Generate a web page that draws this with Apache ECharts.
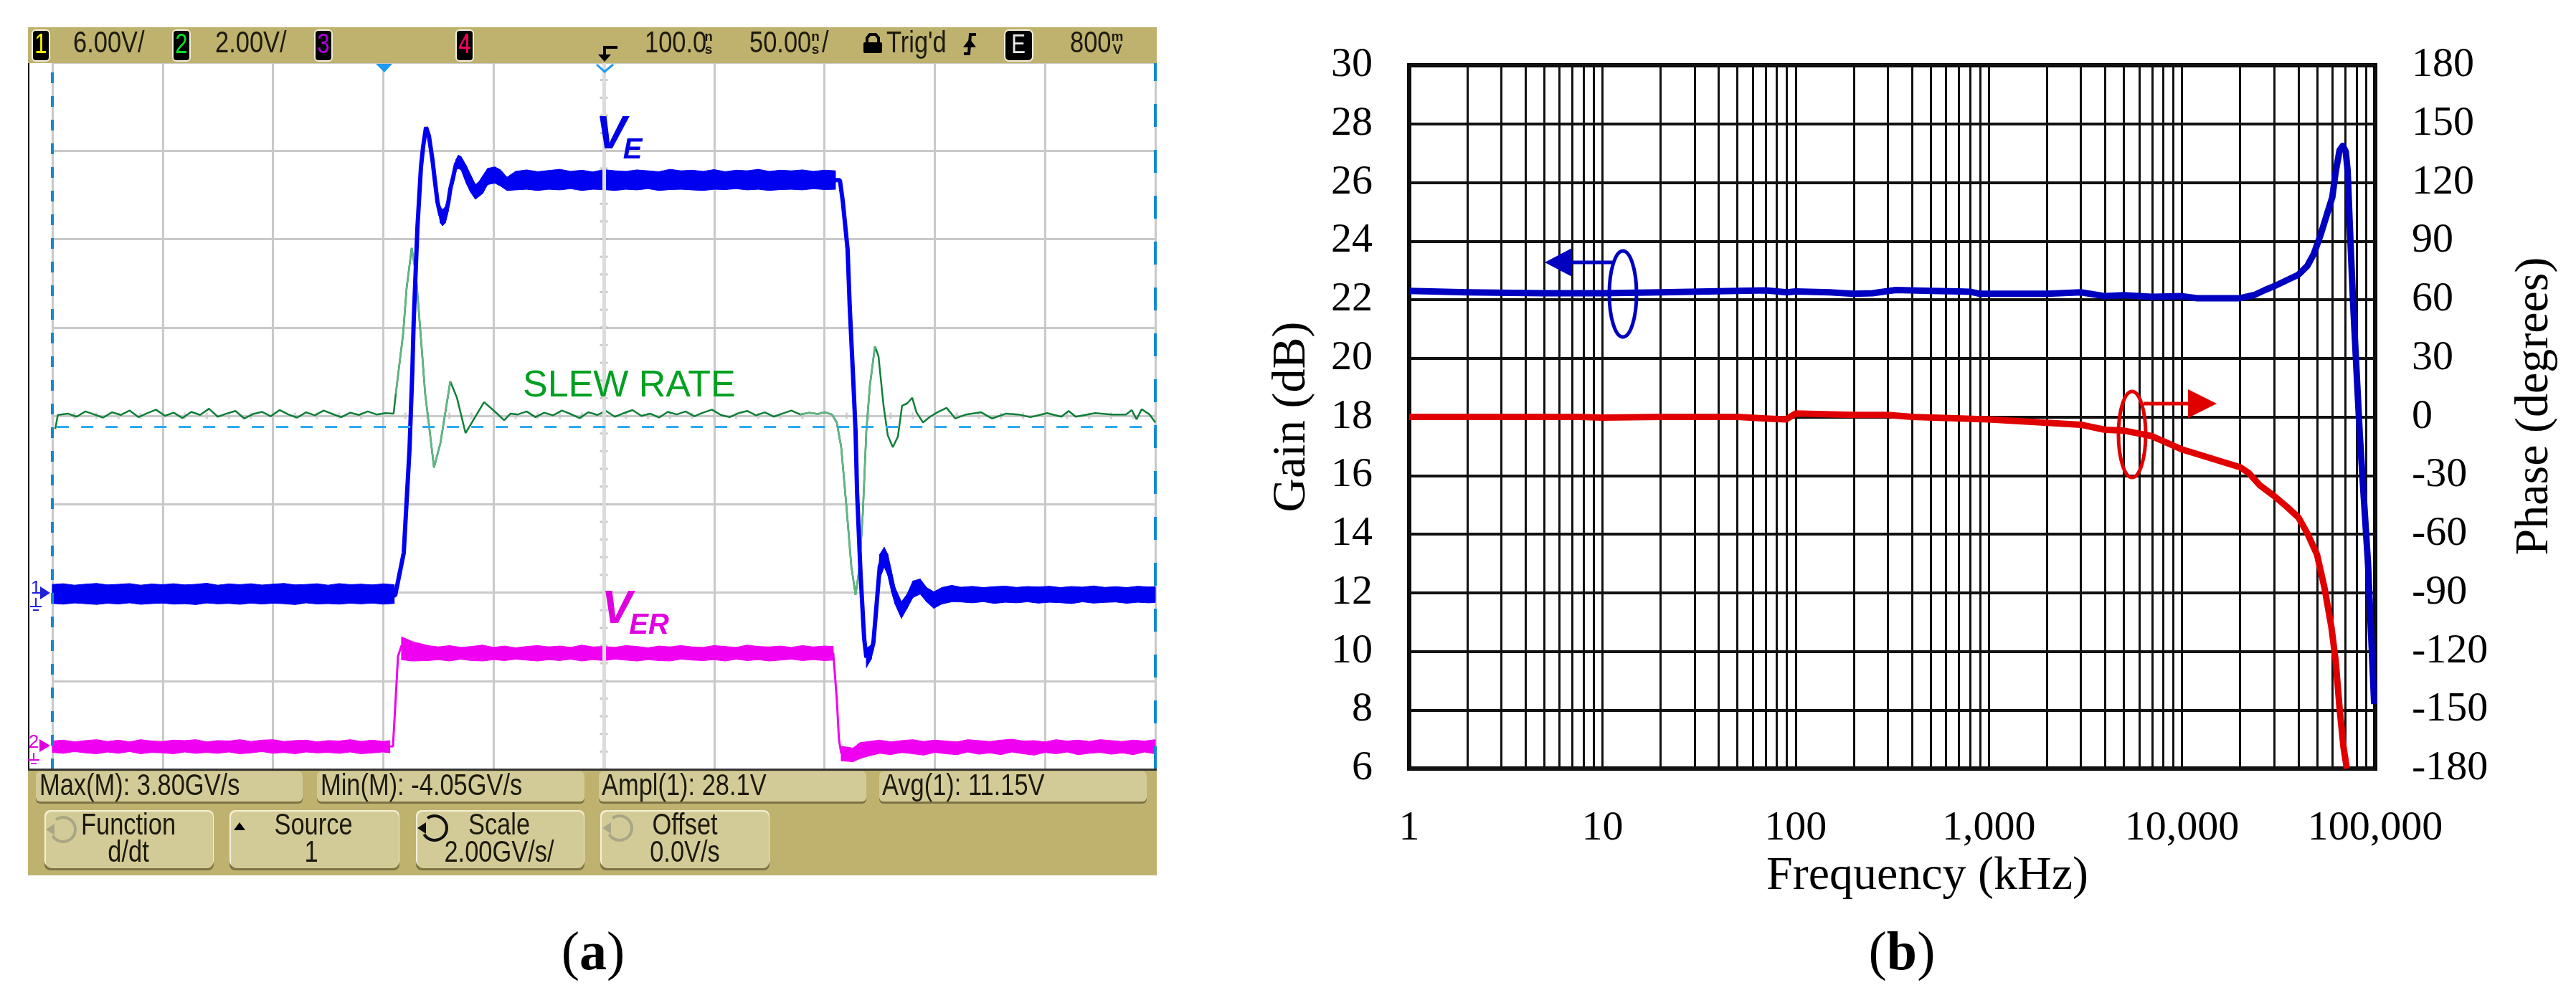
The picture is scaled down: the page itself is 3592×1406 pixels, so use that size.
<!DOCTYPE html>
<html>
<head>
<meta charset="utf-8">
<title>Slew rate and frequency response</title>
<script src="https://cdn.jsdelivr.net/npm/echarts@6/dist/echarts.min.js"></script>
<style>
html, body { margin: 0; padding: 0; background: #fff; }
#main { width: 3592px; height: 1406px; }
</style>
</head>
<body>
<div id="main"></div>
<script>
// panel (a): scope traces, time in ns
var veTimes = [-150, 5.4, 9.3, 11.9, 13.2, 13.8, 15.5, 17.1, 18.1, 19.4, 20.7, 22.3, 23.3, 24.6, 25.9, 26.9, 28.2, 29.5, 30.4, 31.7, 33, 34, 35.3, 37.6, 39.5, 41.8, 43.4, 45.1, 47.3, 50.6, 53.2, 56.1, 60, 207,
    208.3, 210.5, 211.5, 213.1, 214.1, 214.8, 216.4, 218, 219, 221.2, 222.2, 223.6, 225.1, 227.1, 228.7, 230.4, 232, 234.9, 237.5, 240.1, 243.4, 246.3, 249.6, 253.2, 257.7, 350];
var veValues = [-0.1, -0.2, 2.7, 9.7, 15.1, 18.4, 24.8, 28.9, 30.3, 31.6, 31, 29.4, 28.1, 26.5, 25.65, 25.5, 25.65, 26.5, 27.4, 28.2, 29.1, 29.3, 29.2, 28.4, 27.8, 27.3, 27.4, 27.7, 28.3, 28.4, 28.2, 27.7, 28, 28,
    26.6, 23.3, 19.3, 14.3, 11, 6.8, 1.2, -3.1, -4.4, -4, -3.4, -0.9, 1.8, 2.4, 1.9, 0.75, -0.2, -1.2, -0.6, 0.2, 0.4, -0.15, -0.5, -0.2, -0.07, -0.2];

// noise envelope of VE, null splits it where the edge is clean
var veBandTimes = [-150, -145, -140, -135, -130, -125, -120, -115, -110, -105, -100, -95, -90, -85, -80, -75, -70, -65, -60, -55, -50, -45, -40, -35, -30, -25, -20, -15, -10, -5, 0, 5, null,
    24.6, 25.9, 26.9, 28.2, 29.5, 30.4, 31.7, 33, 34, 35.3, 37.6, 39.5, 41.8, 43.4, 45.1, 47.3, 50.6, 53.2, 56.1,
    60, 65, 70, 75, 80, 85, 90, 95, 100, 105, 110, 115, 120, 125, 130, 135, 140, 145, 150, 155, 160, 165, 170, 175, 180, 185, 190, 195, 200, 205, null,
    219, 221.2, 222.2, 223.6, 225.1, 227.1, 228.7, 230.4, 232, 234.9, 237.5, 240.1, 243.4, 246.3, 249.6, 253.2, 257.7,
    262, 267, 272, 277, 282, 287, 292, 297, 302, 307, 312, 317, 322, 327, 332, 337, 342, 347, 350];
var veBandHigh = [0.55, 0.6, 0.5, 0.57, 0.62, 0.52, 0.56, 0.61, 0.5, 0.58, 0.54, 0.6, 0.52, 0.56, 0.63, 0.5, 0.59, 0.54, 0.6, 0.51, 0.57, 0.62, 0.52, 0.55, 0.6, 0.5, 0.61, 0.54, 0.57, 0.52, 0.59, 0.54, null,
    26.8, 26.2, 26, 26.2, 26.9, 27.8, 28.5, 29.4, 29.7, 29.6, 29, 28.4, 27.7, 27.9, 28.3, 28.8, 28.9, 28.7, 28.2,
    28.6, 28.7, 28.58, 28.66, 28.74, 28.6, 28.68, 28.56, 28.72, 28.64, 28.6, 28.7, 28.64, 28.58, 28.74, 28.64, 28.68, 28.6, 28.72, 28.58, 28.68, 28.64, 28.74, 28.6, 28.68, 28.64, 28.7, 28.6, 28.68, 28.64, null,
    -3.8, -3.55, -3, -0.2, 2.6, 3.07, 2.6, 1.46, 0.34, -0.63, -0.1, 0.78, 0.92, 0.34, 0.05, 0.34, 0.49,
    0.36, 0.42, 0.34, 0.4, 0.44, 0.35, 0.41, 0.38, 0.43, 0.34, 0.41, 0.37, 0.45, 0.35, 0.4, 0.34, 0.43, 0.38, 0.4];
var veBandLow = [-0.74, -0.79, -0.71, -0.76, -0.81, -0.73, -0.78, -0.7, -0.8, -0.75, -0.72, -0.79, -0.76, -0.82, -0.71, -0.77, -0.74, -0.8, -0.72, -0.78, -0.73, -0.76, -0.82, -0.7, -0.78, -0.75, -0.79, -0.73, -0.77, -0.72, -0.79, -0.74, null,
    26.2, 25.1, 24.9, 25.1, 25.9, 27, 27.8, 28.7, 28.8, 28.7, 27.8, 27.2, 26.7, 26.9, 27.1, 27.7, 27.8, 27.6, 27.3,
    27.34, 27.38, 27.3, 27.38, 27.34, 27.42, 27.3, 27.38, 27.36, 27.3, 27.38, 27.34, 27.42, 27.3, 27.36, 27.38, 27.34, 27.3, 27.38, 27.36, 27.42, 27.34, 27.38, 27.3, 27.36, 27.38, 27.34, 27.42, 27.36, 27.38, null,
    -5.1, -4.53, -3.85, -1.6, 0.95, 1.75, 1.17, 0.05, -0.78, -1.75, -1.07, -0.34, -0.1, -0.63, -1.07, -0.78, -0.63,
    -0.64, -0.7, -0.62, -0.74, -0.66, -0.7, -0.63, -0.72, -0.66, -0.69, -0.75, -0.63, -0.72, -0.67, -0.64, -0.73, -0.66, -0.7, -0.68];

var verTimes = [-150, 4.4, 5.4, 6.7, 8.3, 12, 204, 204.3, 205.6, 206.6, 207.6, 350];
var verValues = [0, 0.02, 0.89, 2.06, 2.3, 2.13, 2.13, 1.93, 1.09, 0.16, -0.13, 0];
var verBandTimes = [-150, -145, -140, -135, -130, -125, -120, -115, -110, -105, -100, -95, -90, -85, -80, -75, -70, -65, -60, -55, -50, -45, -40, -35, -30, -25, -20, -15, -10, -5, 0, 3, null,
    8.3, 13.2, 20.3, 25, 30, 35, 40, 45, 50, 55, 60, 65, 70, 75, 80, 85, 90, 95, 100, 105, 110, 115, 120, 125, 130, 135, 140, 145, 150, 155, 160, 165, 170, 175, 180, 185, 190, 195, 200, 204, null,
    207.6, 213, 216, 220, 225, 230, 235, 240, 245, 250, 255, 260, 265, 270, 275, 280, 285, 290, 295, 300, 305, 310, 315, 320, 325, 330, 335, 340, 345, 350];
var verBandHigh = [0.14, 0.16, 0.12, 0.15, 0.17, 0.13, 0.16, 0.12, 0.17, 0.14, 0.13, 0.16, 0.15, 0.17, 0.12, 0.15, 0.14, 0.17, 0.13, 0.16, 0.17, 0.13, 0.15, 0.16, 0.12, 0.15, 0.14, 0.17, 0.13, 0.16, 0.13, 0.15, null,
    2.5, 2.39, 2.3, 2.27, 2.3, 2.26, 2.28, 2.31, 2.26, 2.29, 2.25, 2.28, 2.3, 2.27, 2.29, 2.26, 2.31, 2.27, 2.28, 2.26, 2.3, 2.28, 2.25, 2.29, 2.27, 2.3, 2.27, 2.26, 2.3, 2.28, 2.26, 2.31, 2.28, 2.27, 2.29, 2.26, 2.3, 2.27, 2.29, 2.28, null,
    0.02, -0.02, 0.1, 0.13, 0.16, 0.12, 0.15, 0.17, 0.13, 0.16, 0.14, 0.12, 0.17, 0.15, 0.13, 0.16, 0.18, 0.14, 0.15, 0.12, 0.17, 0.14, 0.16, 0.13, 0.17, 0.15, 0.13, 0.16, 0.14, 0.17];
var verBandLow = [-0.12, -0.14, -0.1, -0.13, -0.15, -0.11, -0.14, -0.1, -0.15, -0.12, -0.13, -0.15, -0.11, -0.14, -0.12, -0.14, -0.11, -0.15, -0.13, -0.1, -0.14, -0.12, -0.15, -0.11, -0.13, -0.12, -0.14, -0.11, -0.15, -0.13, -0.11, -0.13, null,
    1.98, 1.95, 1.96, 1.98, 1.95, 1.99, 1.96, 1.95, 1.98, 1.96, 1.99, 1.97, 1.95, 1.98, 1.96, 1.99, 1.95, 1.98, 1.96, 1.99, 1.97, 1.95, 1.98, 1.96, 1.95, 1.99, 1.97, 1.96, 1.98, 1.95, 1.99, 1.96, 1.98, 1.95, 1.97, 1.99, 1.96, 1.98, 1.96, 1.97, null,
    -0.31, -0.33, -0.26, -0.2, -0.14, -0.17, -0.12, -0.15, -0.18, -0.12, -0.15, -0.17, -0.11, -0.16, -0.13, -0.17, -0.11, -0.15, -0.18, -0.12, -0.15, -0.11, -0.17, -0.14, -0.12, -0.16, -0.13, -0.17, -0.11, -0.15];

var slewTimes = [-148.7, -147.5, -143, -139, -135, -131, -127, -123, -119, -115, -111, -107, -103, -99, -95, -91, -87, -83, -79, -75, -71, -67, -63, -59, -55, -51, -47, -43, -39, -35, -31, -27, -23, -19, -15, -11, -7, -3, 1,
    4.7, 5.7, 9, 10.6, 12.9, 14.8, 17.1, 19, 20.6, 23, 25.9, 30.4, 33.4, 37.3, 40.8, 45.7, 50.3, 54.8, 57.7,
    61, 65, 69, 73, 77, 81, 85, 89, 93, 97, 101, 105, 109, 113, 117, 121, 125, 129, 133, 137, 141, 145, 149, 153, 157, 161, 165, 169, 173, 177, 181, 185, 189, 193, 197,
    200.1, 203.4, 205.6, 207.6, 209.9, 212.2, 214.1, 215.7, 217.4, 219, 220.6, 222.9, 224.5, 226.8, 228.7, 231, 233.3, 235.2, 237.5, 239.8, 241.7, 244.7, 247.9, 251.2, 255.4, 259.3, 264.2, 271, 275.9, 282.4, 287.9, 293.4, 300.9, 307.4, 310.7, 313.9, 322.7, 330.2, 336.7, 339.3, 341.5, 343.8, 347.4, 350];
var slewValues = [-0.3, 0.02, 0.05, -0.02, 0.1, 0.03, -0.04, 0.08, 0.02, 0.12, -0.03, 0.06, 0.14, 0, 0.07, -0.05, 0.09, 0.02, 0.16, -0.02, 0.05, 0.11, -0.06, 0.04, 0.09, -0.01, 0.13, 0.03, -0.04, 0.08, 0.01, 0.12, 0.04, -0.03, 0.07, 0.02, 0.1, 0.03, 0.06,
    0.05, 0.5, 1.85, 2.89, 3.8, 3.21, 1.75, 0.5, -0.15, -1.17, -0.62, 0.78, 0.41, -0.39, -0.1, 0.31, 0.11, -0.1, 0.05,
    0.03, 0.1, -0.03, 0.07, 0.01, 0.12, 0.04, -0.05, 0.08, 0.02, 0.11, -0.02, 0.06, 0.13, 0, 0.05, -0.04, 0.09, 0.03, 0.1, -0.01, 0.07, 0.14, 0.02, -0.03, 0.06, 0.11, 0.01, 0.08, -0.02, 0.05, 0.12, 0.03, 0.07, 0.04,
    0.08, 0.03, -0.15, -0.71, -2.01, -3.41, -4.05, -3.51, -2.21, -0.34, 0.68, 1.57, 1.35, 0.23, -0.44, -0.71, -0.47, 0.23, 0.28, 0.41, 0.08, -0.15, -0.02, 0.08, 0.18, -0.06, 0.03, 0.08, -0.06, 0.05, 0.03, -0.03, 0.06, -0.02, 0.11, -0.02, 0.06, 0.03, 0.03, 0.13, -0.08, 0.15, 0.03, -0.15];

// panel (b): frequency response
var tickFreqs = [2, 3, 4, 5, 6, 7, 8, 9, 20, 30, 40, 50, 60, 70, 80, 90, 200, 300, 400, 500, 600, 700, 800, 900,
    2000, 3000, 4000, 5000, 6000, 7000, 8000, 9000, 20000, 30000, 40000, 50000, 60000, 70000, 80000, 90000];
var gainFreqs = [1, 2, 5, 10, 20, 50, 70, 90, 100, 150, 200, 250, 330, 500, 700, 800, 900, 1000, 2000, 3000, 4000, 5000, 7000, 10000, 12000, 20000, 23660, 26900,
    30000, 34800, 40000, 44500, 48100, 52100, 56500, 60000, 62400, 65400, 67950, 70400, 72000, 73800, 76700, 83200, 91800, 98800];
var gainValues = [22.3, 22.25, 22.22, 22.22, 22.25, 22.3, 22.32, 22.25, 22.28, 22.25, 22.2, 22.22, 22.33, 22.3, 22.28, 22.27, 22.2, 22.2, 22.2, 22.25, 22.12, 22.15, 22.1, 22.12, 22.05, 22.05, 22.16, 22.33,
    22.46, 22.66, 22.85, 23.15, 23.56, 24.2, 24.95, 25.5, 26.35, 27.1, 27.25, 27.05, 26.4, 24.6, 22, 17.4, 13, 8.2];
var phaseFreqs = [1, 7.5, 10, 20, 50, 70, 89, 100, 200, 300, 400, 1000, 3000, 4000, 5000, 6950, 9900, 20000, 22150, 25200, 30000, 34800, 40000, 44500, 50000, 54700, 59300, 62400, 65400, 68500, 71300];
var phaseValues = [0, 0, -0.4, 0, 0, -0.8, -1.3, 1.7, 1, 1, 0, -1.3, -4, -6.6, -7, -9.8, -16.5, -25.8, -28.7, -34.9, -40.5, -45.9, -51.4, -59.5, -70.5, -87.7, -107.4, -124.6, -149, -168.8, -180];

var SANS = '"Liberation Sans", sans-serif';
var SERIF = '"Liberation Serif", serif';
var INK = '#1c1a0e', PANEL = '#bfb26e', BTN = '#d3cb97';

function rect(x, y, w, h, fill, r, stroke, lw) {
    return { type: 'rect', z: 20, shape: { x: x, y: y, width: w, height: h, r: r || 0 },
        style: { fill: fill, stroke: stroke || null, lineWidth: lw || 0 } };
}
// scope lettering is condensed, so squeeze the sans face
function txt(s, x, y, size, fill, align, squeeze, weight, style) {
    return { type: 'text', z: 30, x: x, y: y, scaleX: squeeze || 0.82, style: { text: s, x: 0, y: 0, fill: fill || INK, fontSize: size,
        fontFamily: SANS, fontWeight: weight || 'normal', fontStyle: style || 'normal',
        align: align || 'left', verticalAlign: 'middle' } };
}
function poly(points, fill) {
    return { type: 'polygon', z: 30, shape: { points: points }, style: { fill: fill } };
}
function path(points, stroke, lw) {
    return { type: 'polyline', z: 30, shape: { points: points }, style: { stroke: stroke, lineWidth: lw, fill: null } };
}
function ellipse(cx, cy, rx, ry, stroke) {
    return { type: 'ellipse', z: 30, shape: { cx: cx, cy: cy, rx: rx, ry: ry }, style: { fill: null, stroke: stroke, lineWidth: 5 } };
}
function button(x, y, w, h) {
    return [rect(x, y + 3, w, h, '#7d7344', 8), rect(x, y - 2, w, h, '#f4f0d8', 8), rect(x + 2, y, w - 3, h, BTN, 8)];
}
function knob(cx, cy, color) {
    return [{ type: 'arc', z: 30, shape: { cx: cx, cy: cy, r: 17, startAngle: -2.2, endAngle: 2.6, clockwise: true },
        style: { stroke: color, lineWidth: 4, fill: null } },
        poly([[cx - 24, cy], [cx - 12, cy - 8], [cx - 12, cy + 8]], color)];
}
function chanBox(x, label, color) {
    return [rect(x, 42, 24, 43, '#000', 5, '#f4f0d8', 2), txt(label, x + 12, 64, 38, color, 'center')];
}
function caption(letter, x) {
    return { type: 'text', z: 30, style: { text: '{r|(}{b|' + letter + '}{r|)}', x: x, y: 1332, align: 'center', verticalAlign: 'middle',
        rich: { r: { fontSize: 76, fontFamily: SERIF, fill: '#000' }, b: { fontSize: 76, fontFamily: SERIF, fontWeight: 'bold', fill: '#000' } } } };
}

var graphics = [].concat(
    [rect(39, 38, 1574, 50, PANEL), rect(39, 1073, 1574, 148, PANEL)],
    chanBox(45, '1', '#f5f000'), chanBox(241, '2', '#00e030'), chanBox(439, '3', '#b000e0'), chanBox(636, '4', '#ff0066'),
    [rect(1401, 42, 39, 43, '#000', 6, '#f4f0d8', 2), txt('E', 1420, 64, 36, '#e8e8e8', 'center'),
     txt('6.00V/', 102, 61, 42), txt('2.00V/', 300, 61, 42), txt('100.0', 899, 61, 42),
     txt('n', 988, 52, 19, INK, 'center', 1, 'bold'), txt('s', 988, 70, 19, INK, 'center', 1, 'bold'),
     txt('50.00', 1045, 61, 42), txt('n', 1137, 52, 19, INK, 'center', 1, 'bold'), txt('s', 1137, 70, 19, INK, 'center', 1, 'bold'),
     txt('/', 1146, 61, 42), txt("Trig'd", 1236, 61, 42), txt('800', 1492, 61, 42),
     txt('m', 1558, 52, 19, INK, 'center', 1, 'bold'), txt('V', 1558, 70, 19, INK, 'center', 1, 'bold'),
     rect(1204, 59, 26, 15, '#000', 2), path([[1209, 60], [1209, 53], [1213, 48], [1221, 48], [1225, 53], [1225, 60]], '#000', 4),
     path([[1361, 48], [1353, 48], [1351, 75], [1344, 75]], '#000', 4), poly([[1343, 66], [1361, 66], [1352, 54]], '#000'),
     path([[861, 66], [843, 66], [843, 78]], '#000', 4), poly([[834, 76], [852, 76], [843, 86]], '#000'),
     poly([[524, 89], [547, 89], [536, 101]], '#1e9bf0'), path([[832, 90], [843, 100], [855, 90]], '#1e9bf0', 3),
     rect(39, 88, 2, 985, '#000'), rect(39, 1072, 1574, 3, '#333'),
     rect(50, 1078, 372, 43, '#7d7344', 6), rect(50, 1076, 372, 42, BTN, 6),
     rect(442, 1078, 373, 43, '#7d7344', 6), rect(442, 1076, 373, 42, BTN, 6),
     rect(835, 1078, 373, 43, '#7d7344', 6), rect(835, 1076, 373, 42, BTN, 6),
     rect(1226, 1078, 373, 43, '#7d7344', 6), rect(1226, 1076, 373, 42, BTN, 6)],
    button(62, 1132, 236, 79), button(320, 1132, 237, 79), button(580, 1132, 235, 79), button(837, 1132, 236, 79),
    knob(88, 1157, '#a9a685'), knob(606, 1155, '#111'), knob(864, 1155, '#a9a685'),
    [poly([[326, 1158], [342, 1158], [334, 1147]], '#000'),
     txt('Max(M): 3.80GV/s', 55, 1097, 42), txt('Min(M): -4.05GV/s', 447, 1097, 42),
     txt('Ampl(1): 28.1V', 839, 1097, 42), txt('Avg(1): 11.15V', 1230, 1097, 42),
     txt('Function', 179, 1152, 42, INK, 'center'), txt('d/dt', 179, 1190, 42, INK, 'center'),
     txt('Source', 437, 1152, 42, INK, 'center'), txt('1', 434, 1190, 42, INK, 'center'),
     txt('Scale', 696, 1152, 42, INK, 'center'), txt('2.00GV/s/', 696, 1190, 42, INK, 'center'),
     txt('Offset', 955, 1152, 42, INK, 'center'), txt('0.0V/s', 955, 1190, 42, INK, 'center'),
     // trace labels
     txt('V', 852, 189, 64, '#0000e6', 'center', 1, 'bold', 'italic'),
     txt('E', 882, 210, 40, '#0000e6', 'center', 1, 'bold', 'italic'),
     txt('V', 860, 851, 64, '#e000e0', 'center', 1, 'bold', 'italic'),
     txt('ER', 905, 873, 40, '#e000e0', 'center', 1, 'bold', 'italic'),
     txt('SLEW RATE', 729, 539, 52, '#00a020', 'left', 1),
     // channel ground markers
     txt('1', 50, 821, 26, '#2020e0', 'center', 1), poly([[56, 818], [70, 827], [56, 836]], '#2020e0'),
     path([[50, 834], [50, 846]], '#2020e0', 2), path([[42, 846], [58, 846]], '#2020e0', 2), path([[46, 851], [54, 851]], '#2020e0', 2),
     txt('2', 47, 1036, 26, '#e000e0', 'center', 1), poly([[55, 1031], [70, 1040], [55, 1049]], '#e000e0'),
     path([[47, 1050], [47, 1060]], '#e000e0', 2), path([[39, 1060], [55, 1060]], '#e000e0', 2), path([[43, 1065], [51, 1065]], '#e000e0', 2),
     caption('a', 827), caption('b', 2652),
     // gain / phase pointers
     ellipse(2263, 410, 19, 60, '#0000c0'), path([[2189, 366], [2248, 366]], '#0000c0', 5), poly([[2154, 366], [2192, 346], [2192, 386]], '#0000c0'),
     ellipse(2973, 606, 19, 60, '#e00000'), path([[2989, 563], [3053, 563]], '#e00000', 5), poly([[3091, 563], [3051, 543], [3051, 583]], '#e00000')]
);

// filled noise envelope drawn as quads through the axes
function bandSeries(name, yIndex, times, high, low, color) {
    return {
        name: name, type: 'custom', coordinateSystem: 'cartesian2d', xAxisIndex: 0, yAxisIndex: yIndex, z: 4, silent: true,
        encode: { x: 0, y: [1, 2] },
        data: times.map(function (t, i) { return [t, high[i], low[i]]; }),
        renderItem: function (params, api) {
            var i = params.dataIndex;
            if (i === 0 || times[i] === null || times[i - 1] === null) return;
            var pts = [api.coord([times[i - 1], high[i - 1]]), api.coord([times[i], high[i]]),
                api.coord([times[i], low[i]]), api.coord([times[i - 1], low[i - 1]])];
            return { type: 'polygon', shape: { points: pts }, style: { fill: color, stroke: color, lineWidth: 1 } };
        }
    };
}
function pairs(xs, ys) {
    return xs.map(function (x, i) { return [x, ys[i]]; });
}
// the fast edges of the d/dt trace look paler on the scope
function slewEdge(name, from, to) {
    return { name: name, type: 'line', xAxisIndex: 0, yAxisIndex: 1, showSymbol: false, z: 3, silent: true,
        lineStyle: { color: '#62b585', width: 2.5 }, data: pairs(slewTimes, slewValues).slice(from, to) };
}

var centerTickY = [], centerTickX = [];
for (var g = -8; g <= 8.01; g += 0.4) centerTickY.push([100, +g.toFixed(1)]);
for (var t = -150; t <= 350; t += 10) centerTickX.push([t, 0]);

var gridGrey = { show: true, lineStyle: { color: '#c9c9c9', width: 3 } };
var serifLabel = { fontFamily: SERIF, fontSize: 58, color: '#000' };
var serifName = { fontFamily: SERIF, fontSize: 66, color: '#000' };

var option = {
    animation: false,
    backgroundColor: '#fff',
    graphic: { elements: graphics },
    grid: [
        { left: 73, top: 87, width: 1538, height: 986 },
        { left: 1965, top: 91, width: 1347, height: 981, show: true, borderColor: '#000', borderWidth: 6, backgroundColor: 'transparent' }
    ],
    xAxis: [
        { gridIndex: 0, type: 'value', min: -150, max: 350, interval: 50, axisLine: { show: false }, axisTick: { show: false }, axisLabel: { show: false }, splitLine: gridGrey },
        { gridIndex: 1, type: 'log', logBase: 10, min: 1, max: 100000, splitNumber: 5, axisLine: { show: false }, axisTick: { show: false },
          axisLabel: Object.assign({ margin: 55, showMinLabel: true, showMaxLabel: true, hideOverlap: false, formatter: function (v) { return Number(v).toLocaleString('en-US'); } }, serifLabel),
          splitLine: { show: true, lineStyle: { color: '#111', width: 3 } }, name: 'Frequency (kHz)', nameLocation: 'middle', nameGap: 108,
          nameTextStyle: Object.assign({ padding: [0, 0, 0, 98] }, serifName) }
    ],
    yAxis: [
        { gridIndex: 0, type: 'value', min: -12, max: 36, interval: 6, axisLine: { show: false }, axisTick: { show: false }, axisLabel: { show: false }, splitLine: gridGrey },
        { gridIndex: 0, type: 'value', min: -8, max: 8, interval: 2, show: false, splitLine: { show: false } },
        { gridIndex: 0, type: 'value', min: -0.5, max: 15.5, interval: 0.5, show: false, splitLine: { show: false } },
        { gridIndex: 1, type: 'value', position: 'left', min: 6, max: 30, interval: 2, axisLine: { show: false }, axisTick: { show: false },
          axisLabel: Object.assign({ margin: 51, padding: [8, 0, 0, 0] }, serifLabel), splitLine: { show: true, lineStyle: { color: '#111', width: 4 } },
          name: 'Gain (dB)', nameLocation: 'middle', nameRotate: 90, nameGap: 130, nameTextStyle: serifName },
        { gridIndex: 1, type: 'value', position: 'right', min: -180, max: 180, interval: 30, axisLine: { show: false }, axisTick: { show: false },
          axisLabel: Object.assign({ margin: 51, padding: [8, 0, 0, 0] }, serifLabel), splitLine: { show: false },
          name: 'Phase (degrees)', nameLocation: 'middle', nameRotate: 90, nameGap: 190, nameTextStyle: Object.assign({ padding: [0, 0, 0, 30] }, serifName) }
    ],
    series: [
        { name: 'Screen center', type: 'line', xAxisIndex: 0, yAxisIndex: 1, data: [], z: 1, silent: true,
          markLine: { silent: true, symbol: ['none', 'none'], label: { show: false }, animation: false,
            lineStyle: { color: '#dcdcdc', width: 5, type: 'solid' }, data: [{ xAxis: 100 }] } },
        { name: 'Center ticks Y', type: 'scatter', xAxisIndex: 0, yAxisIndex: 1, data: centerTickY, symbol: 'rect', symbolSize: [11, 3], itemStyle: { color: '#bcbcbc' }, z: 1, silent: true },
        { name: 'Center ticks X', type: 'scatter', xAxisIndex: 0, yAxisIndex: 1, data: centerTickX, symbol: 'rect', symbolSize: [3, 9], itemStyle: { color: '#c8c8c8' }, z: 1, silent: true },
        { name: 'Cursors', type: 'line', xAxisIndex: 0, yAxisIndex: 1, data: [], z: 2, silent: true,
          markLine: { silent: true, symbol: ['none', 'none'], label: { show: false }, animation: false,
            data: [
                { xAxis: -150, lineStyle: { color: '#1488cf', width: 4, type: [15, 18] } },
                { xAxis: 350, lineStyle: { color: '#1488cf', width: 4, type: [32, 32] } },
                [{ coord: [-148, -0.24], lineStyle: { color: '#2eaaf0', width: 3, type: [17, 17] } }, { coord: [350, -0.24] }]
            ] } },
        { name: 'SLEW RATE', type: 'line', xAxisIndex: 0, yAxisIndex: 1, showSymbol: false, z: 3, silent: true,
          lineStyle: { color: '#0f7f38', width: 2.5 }, data: pairs(slewTimes, slewValues) },
        slewEdge('SLEW RATE rise', 40, 51),
        slewEdge('SLEW RATE fall', 90, 105),
        { name: 'VE', type: 'line', xAxisIndex: 0, yAxisIndex: 0, showSymbol: false, z: 4, silent: true,
          lineStyle: { color: '#0000f0', width: 6 }, data: pairs(veTimes, veValues) },
        bandSeries('VE noise', 0, veBandTimes, veBandHigh, veBandLow, '#0000f0'),
        { name: 'VER', type: 'line', xAxisIndex: 0, yAxisIndex: 2, showSymbol: false, z: 4, silent: true,
          lineStyle: { color: '#f000f0', width: 3 }, data: pairs(verTimes, verValues) },
        bandSeries('VER noise', 2, verBandTimes, verBandHigh, verBandLow, '#f000f0'),

        { name: 'Log grid', type: 'line', xAxisIndex: 1, yAxisIndex: 3, data: [], z: 1, silent: true,
          markLine: { silent: true, symbol: ['none', 'none'], label: { show: false }, animation: false,
            lineStyle: { color: '#111', width: 3, type: 'solid' },
            data: tickFreqs.map(function (f) { return { xAxis: f }; }) } },
        { name: 'Gain', type: 'line', xAxisIndex: 1, yAxisIndex: 3, showSymbol: false, z: 5, silent: true,
          lineStyle: { color: '#0000c0', width: 9, join: 'round' }, data: pairs(gainFreqs, gainValues) },
        { name: 'Phase', type: 'line', xAxisIndex: 1, yAxisIndex: 4, showSymbol: false, z: 5, silent: true,
          lineStyle: { color: '#e00000', width: 9, join: 'round' }, data: pairs(phaseFreqs, phaseValues) }
    ]
};

var myChart = echarts.init(document.getElementById('main'));
myChart.setOption(option);
</script>
</body>
</html>
